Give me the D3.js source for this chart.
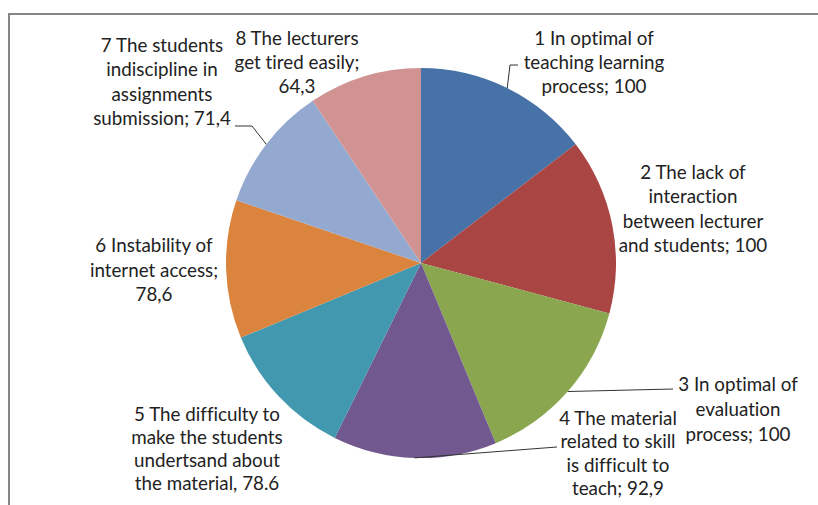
<!DOCTYPE html>
<html>
<head>
<meta charset="utf-8">
<title>Lecturer problems pie</title>
<script src="https://cdnjs.cloudflare.com/ajax/libs/d3/7.8.5/d3.min.js"></script>
<style>
  body { margin: 0; background: #fff; }
  svg { display: block; }
  .label { font-family: Lato, "Open Sans", sans-serif; font-size: 18.8px; fill: #222; text-anchor: middle;
           font-variant-ligatures: none; font-feature-settings: "liga" 0, "dlig" 0; }
  .leader { fill: none; stroke: #333; stroke-width: 1; }
</style>
</head>
<body>
<svg id="chart" width="818" height="505"></svg>
<script>
// data
const categories = [
  "1 In optimal of teaching learning process",
  "2 The lack of interaction between lecturer and students",
  "3 In optimal of evaluation process",
  "4 The material related to skill is difficult to teach",
  "5 The difficulty to make the students undertsand about the material",
  "6 Instability of internet access",
  "7 The students indiscipline in assignments submission",
  "8 The lecturers get tired easily"
];
const values = [100, 100, 100, 92.9, 78.6, 78.6, 71.4, 64.3];
const labelLines = [
  ["1 In optimal of", "teaching learning", "process; 100"],
  ["2 The lack of", "interaction", "between lecturer", "and students; 100"],
  ["3 In optimal of", "evaluation", "process; 100"],
  ["4 The material", "related to skill", "is difficult to", "teach; 92,9"],
  ["5 The difficulty to", "make the students", "undertsand about", "the material, 78.6"],
  ["6 Instability of", "internet access;", "78,6"],
  ["7 The students", "indiscipline in", "assignments", "submission; 71,4"],
  ["8 The lecturers", "get tired easily;", "64,3"]
];
const colors = ["#4672a8", "#a94644", "#8aa64f", "#71588f", "#4298af", "#db843d", "#94a9cf", "#d19392"];

// layout
const cx = 421, cy = 263, radius = 195;
// label box: centre x, baseline of first line, line spacing
const labelPos = [
  { x: 594, y: 45, dy: 24 },
  { x: 693, y: 179, dy: 24.3 },
  { x: 738, y: 391, dy: 25 },
  { x: 618, y: 425, dy: 23.4 },
  { x: 207, y: 421, dy: 23 },
  { x: 154, y: 252, dy: 24.5 },
  { x: 162, y: 52, dy: 24.4 },
  { x: 297, y: 45, dy: 24.2 }
];
// leader line bends (after the point on the pie edge)
const leaderBends = {
  0: [[510, 65], [518, 65]],
  2: [[673, 389]],
  3: [[557, 447]],
  6: [[252, 126], [235, 126]]
};

const svg = d3.select("#chart");

// chart frame (only top and left edges fall inside the window)
svg.append("rect")
  .attr("x", 9).attr("y", 14)
  .attr("width", 900).attr("height", 600)
  .attr("fill", "none")
  .attr("stroke", "#868686")
  .attr("stroke-width", 2);

const pie = d3.pie().sort(null).value(d => d);
const arcs = pie(values);
const arc = d3.arc().innerRadius(0).outerRadius(radius);

const g = svg.append("g").attr("transform", "translate(" + cx + "," + cy + ")");
g.selectAll("path.slice")
  .data(arcs)
  .enter()
  .append("path")
    .attr("class", "slice")
    .attr("d", arc)
    .attr("fill", (d, i) => colors[i]);

// leader lines
const line = d3.line();
arcs.forEach((d, i) => {
  if (!leaderBends[i]) return;
  const a = (d.startAngle + d.endAngle) / 2;
  const start = [cx + radius * Math.sin(a), cy - radius * Math.cos(a)];
  svg.append("path")
    .attr("class", "leader")
    .attr("d", line([start].concat(leaderBends[i])));
});

// labels
labelLines.forEach((lines, i) => {
  const p = labelPos[i];
  const t = svg.append("text").attr("class", "label");
  lines.forEach((s, j) => {
    t.append("tspan")
      .attr("x", p.x)
      .attr("y", p.y + j * p.dy)
      .text(s);
  });
});
</script>
</body>
</html>
